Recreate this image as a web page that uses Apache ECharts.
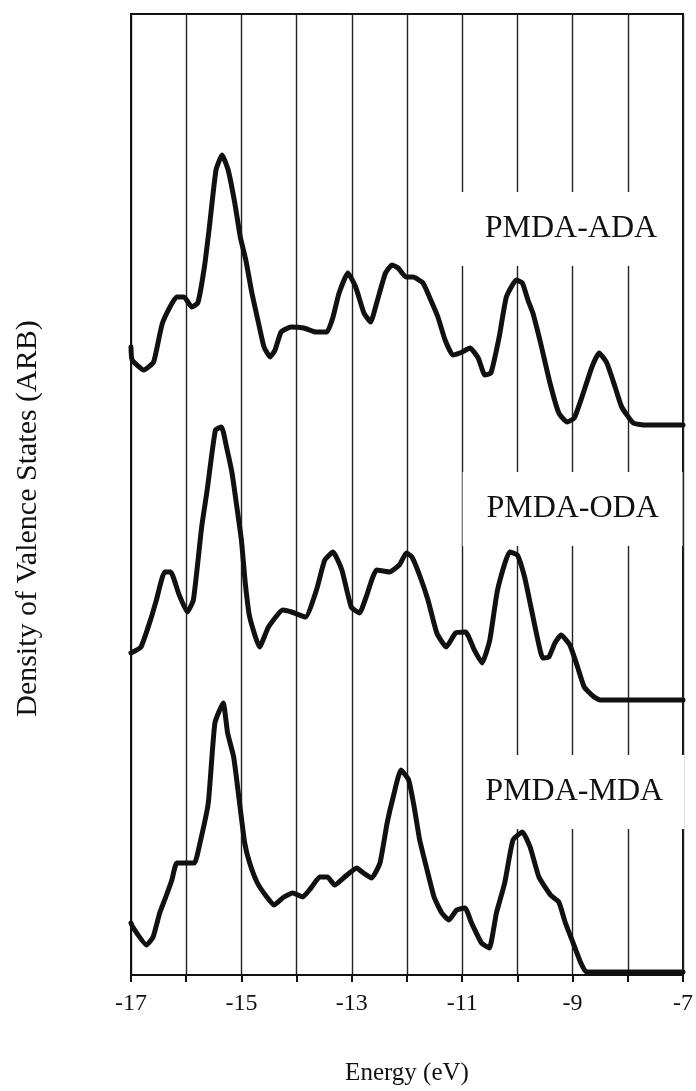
<!DOCTYPE html>
<html lang="en">
<head>
    <meta charset="UTF-8">
    <title>Density of Valence States</title>
    <script src="https://cdn.jsdelivr.net/npm/echarts@6/dist/echarts.min.js"></script>
    <style>
        html, body { margin: 0; padding: 0; background: #fff; }
        .box { width: 696px; height: 1091px; }
    </style>
</head>
<body>
<div id="show_echarts" class="box"></div>
<script>
    // energies (eV) and density values (arbitrary units)
    var adaEnergy = [-17.00,-16.98,-16.77,-16.59,-16.43,-16.17,-16.04,-15.90,-15.79,-15.67,-15.58,-15.46,-15.35,-15.24,-15.12,-15.02,-14.92,-14.81,-14.69,-14.59,-14.48,-14.39,-14.28,-14.10,-13.87,-13.65,-13.45,-13.34,-13.23,-13.07,-12.93,-12.78,-12.66,-12.55,-12.39,-12.27,-12.16,-12.02,-11.89,-11.71,-11.57,-11.44,-11.31,-11.17,-11.00,-10.86,-10.71,-10.59,-10.48,-10.33,-10.20,-10.02,-9.91,-9.81,-9.72,-9.58,-9.41,-9.25,-9.10,-8.97,-8.83,-8.65,-8.52,-8.38,-8.23,-8.11,-7.90,-7.66,-7.00];
    var adaDensity = [62.8,61.5,60.5,61.3,65.2,67.8,67.8,66.8,67.2,70.8,74.8,80.5,82.0,80.5,77.2,73.8,71.5,68.2,65.2,62.8,61.8,62.5,64.3,64.8,64.7,64.3,64.3,65.8,68.2,70.2,68.8,66.2,65.3,67.2,70.2,71.0,70.7,69.8,69.8,69.2,67.5,65.8,63.5,62.0,62.3,62.7,61.7,60.0,60.2,63.8,67.8,69.5,69.2,67.5,66.2,63.2,59.2,56.2,55.3,55.7,57.8,60.8,62.2,61.2,58.8,56.8,55.2,55.0,55.0];

    var odaEnergy = [-17.00,-16.82,-16.63,-16.54,-16.39,-16.28,-16.14,-15.98,-15.87,-15.72,-15.62,-15.47,-15.36,-15.27,-15.17,-15.10,-15.00,-14.93,-14.85,-14.67,-14.51,-14.25,-14.09,-13.84,-13.64,-13.49,-13.34,-13.18,-13.01,-12.86,-12.74,-12.55,-12.32,-12.14,-12.01,-11.91,-11.76,-11.62,-11.46,-11.29,-11.12,-10.94,-10.78,-10.64,-10.50,-10.36,-10.14,-10.00,-9.87,-9.77,-9.63,-9.54,-9.43,-9.32,-9.21,-9.05,-8.91,-8.79,-8.61,-8.50,-7.00];
    var odaDensity = [32.2,32.8,35.8,37.5,40.3,40.3,38.2,36.3,37.5,44.8,48.5,54.5,54.8,52.8,50.2,47.5,43.5,39.2,35.8,32.8,34.8,36.5,36.3,35.8,38.5,41.5,42.3,40.5,36.8,36.2,37.8,40.5,40.3,41.0,42.2,41.8,39.8,37.5,34.2,32.8,34.2,34.3,32.5,31.2,33.5,38.5,42.3,42.0,39.8,37.2,33.5,31.7,31.8,33.2,34.0,33.0,30.8,28.8,27.8,27.5,27.5];

    var mdaEnergy = [-17.00,-16.97,-16.72,-16.60,-16.48,-16.37,-16.26,-16.17,-15.96,-15.85,-15.75,-15.60,-15.48,-15.33,-15.25,-15.14,-15.04,-14.94,-14.85,-14.71,-14.54,-14.41,-14.23,-14.07,-13.89,-13.74,-13.58,-13.44,-13.31,-13.13,-12.91,-12.79,-12.64,-12.49,-12.36,-12.25,-12.11,-11.97,-11.87,-11.77,-11.65,-11.51,-11.37,-11.24,-11.10,-10.95,-10.83,-10.65,-10.51,-10.38,-10.23,-10.08,-9.91,-9.77,-9.61,-9.40,-9.25,-9.13,-8.99,-8.85,-8.75,-7.00];
    var mdaDensity = [5.2,4.8,3.0,3.8,6.2,7.8,9.5,11.2,11.2,11.2,13.2,17.2,25.2,27.2,24.2,21.8,17.5,13.2,11.2,9.2,7.8,7.0,7.8,8.2,7.8,8.7,9.8,9.8,9.0,9.8,10.7,10.2,9.7,11.2,15.2,17.8,20.5,19.5,16.8,13.5,10.8,7.8,6.2,5.5,6.5,6.7,5.2,3.2,2.7,6.2,9.2,13.5,14.3,12.8,9.8,8.0,7.3,5.2,3.2,1.2,0.3,0.3];

    var seriesNames = ['PMDA-ADA', 'PMDA-ODA', 'PMDA-MDA'];
    // where each name sits (energy, density)
    var labelEnergy = [-9.03, -9.0, -8.97];
    var labelDensity = [74.6, 46.6, 18.3];

    var serif = '"Liberation Serif", "DejaVu Serif", serif';

    function zip(xs, ys) {
        var out = [];
        for (var i = 0; i < Math.min(xs.length, ys.length); i++) {
            out.push([xs[i], ys[i]]);
        }
        return out;
    }

    function curve(name, xs, ys) {
        return {
            name: name,
            type: 'line',
            data: zip(xs, ys),
            showSymbol: false,
            smooth: 0.15,
            z: 3,
            lineStyle: { color: '#111', width: 5, join: 'round', cap: 'round' }
        };
    }

    function show() {
        var myChart = echarts.init(document.getElementById('show_echarts'));
        var option = {
            animation: false,
            backgroundColor: '#fff',
            grid: {
                left: 131, right: 8, top: 14, bottom: 116,
                show: true, borderColor: '#111', borderWidth: 2
            },
            xAxis: {
                type: 'value',
                min: -17, max: -7, interval: 1,
                name: 'Energy (eV)',
                nameLocation: 'middle',
                nameGap: 86,
                nameTextStyle: { fontFamily: serif, fontSize: 25, color: '#111' },
                axisLine: { show: true, lineStyle: { color: '#111', width: 2 } },
                axisTick: { show: true, length: 7, lineStyle: { color: '#111', width: 2 } },
                axisLabel: {
                    margin: 17,
                    fontFamily: serif, fontSize: 24, color: '#111',
                    formatter: function (v) { return Math.round(v) % 2 !== 0 ? String(v) : ''; }
                },
                splitLine: { show: true, lineStyle: { color: '#222', width: 1.4 } }
            },
            yAxis: {
                type: 'value',
                min: 0, max: 96.1,
                name: 'Density of Valence States (ARB)',
                nameLocation: 'middle',
                nameGap: 88,
                nameTextStyle: { fontFamily: serif, fontSize: 30, color: '#111', padding: [0, 48, 0, 0] },
                axisLine: { show: true, lineStyle: { color: '#111', width: 2 } },
                axisTick: { show: false },
                axisLabel: { show: false },
                splitLine: { show: false }
            },
            series: [
                curve(seriesNames[0], adaEnergy, adaDensity),
                curve(seriesNames[1], odaEnergy, odaDensity),
                curve(seriesNames[2], mdaEnergy, mdaDensity),
                {
                    type: 'line',
                    data: [],
                    z: 1,
                    markPoint: {
                        symbol: 'rect',
                        symbolSize: [220, 74],
                        itemStyle: { color: '#fff' },
                        label: {
                            show: true, position: 'inside',
                            fontFamily: serif, fontSize: 32, color: '#111',
                            formatter: '{b}'
                        },
                        data: seriesNames.map(function (n, i) {
                            return { name: n, coord: [labelEnergy[i], labelDensity[i]] };
                        })
                    }
                }
            ]
        };
        myChart.setOption(option);
    }
    show();
</script>
</body>
</html>
